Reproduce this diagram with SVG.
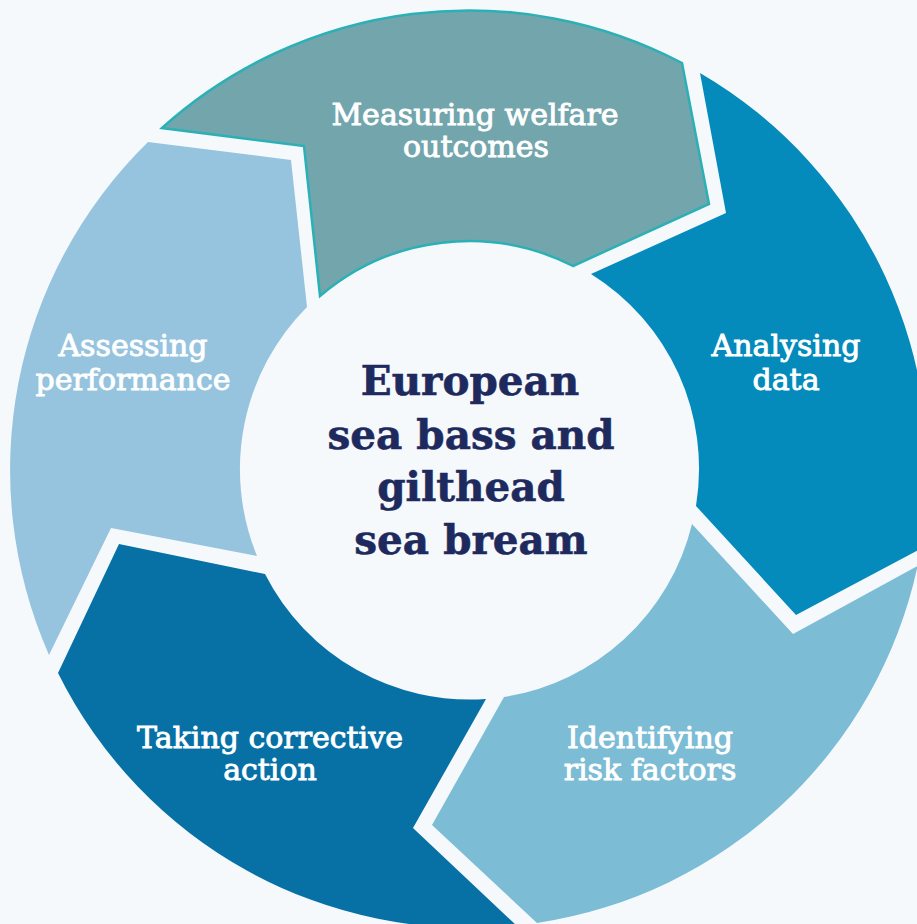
<svg xmlns="http://www.w3.org/2000/svg" width="917" height="924" viewBox="0 0 917 924">
<style>
.lbl{font-family:"DejaVu Serif","Liberation Serif",serif;font-size:30px;fill:#ffffff;stroke:#ffffff;stroke-width:0.9px;text-anchor:middle}
.ttl{font-family:"DejaVu Serif","Liberation Serif",serif;font-size:40.5px;font-weight:bold;fill:#1E2A5E;stroke:#1E2A5E;stroke-width:0.6px;text-anchor:middle}
</style>
<rect width="917" height="924" fill="#F5F9FC"/>
<g id="connectors"></g>
<g id="measuring">
<path d="M162,128 A459,459 0 0 1 682,63 L709,204 L573,266 A229.5,229.5 0 0 0 320,296 L304,146 Z" fill="#72A6AC" stroke="#2BB0B6" stroke-width="2.5" stroke-linejoin="miter"/>
<text class="lbl" x="475" y="125">Measuring welfare</text>
<text class="lbl" x="476" y="157">outcomes</text>
</g>
<g id="analysing">
<path d="M700,73 A459,459 0 0 1 921,548.7 L796,615 L696,506 A229.5,229.5 0 0 0 591,274 L726,213 Z" fill="#048ABB"/>
<text class="lbl" x="786" y="356">Analysing</text>
<text class="lbl" x="786" y="390">data</text>
</g>
<g id="identifying">
<path d="M917.6,566 A459,459 0 0 1 537,923 L432,825 L504,697 A229.5,229.5 0 0 0 692,524 L793,634 Z" fill="#7DBCD5"/>
<text class="lbl" x="650" y="748">Identifying</text>
<text class="lbl" x="650" y="780">risk factors</text>
</g>
<g id="taking">
<path d="M516.5,925.5 A459,459 0 0 1 58,673 L119,544 L265,574 A229.5,229.5 0 0 0 486,699 L413,828 Z" fill="#0771A5"/>
<text class="lbl" x="270" y="748">Taking corrective</text>
<text class="lbl" x="270" y="780">action</text>
</g>
<g id="assessing">
<path d="M49,655 A459,459 0 0 1 148,142 L291,160 L307,307 A229.5,229.5 0 0 0 257,556 L111,528 Z" fill="#96C4DF"/>
<text class="lbl" x="133" y="356">Assessing</text>
<text class="lbl" x="133" y="390">performance</text>
</g>
<g id="center">
<text class="ttl" x="470" y="395">European</text>
<text class="ttl" x="471" y="449">sea bass and</text>
<text class="ttl" x="471" y="501">gilthead</text>
<text class="ttl" x="471" y="554">sea bream</text>
</g>
</svg>
